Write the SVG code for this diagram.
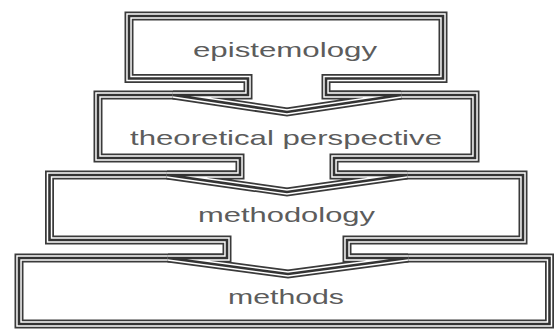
<svg xmlns="http://www.w3.org/2000/svg" xmlns:xlink="http://www.w3.org/1999/xlink" width="554" height="329" viewBox="0 0 554 329">
<style>
.o{fill:#fff;stroke:#3a3a3a;stroke-width:9}
.m{fill:none;stroke:#fff;stroke-width:5.5}
.i{fill:none;stroke:#333;stroke-width:2.6}
.t{font-family:"Liberation Sans",Arial,Helvetica,sans-serif;font-size:21px;fill:#5c5c5c;text-anchor:middle}
</style>
<defs>
<path id="p1" d="M129,16 H443 V78.5 H326 V95 H401 L287,112 L173,95 H248 V78.5 H129 Z"/>
<path id="p2" d="M98,95 H475 V158 H334 V175 H407 L287,192 L167,175 H240 V158 H98 Z"/>
<path id="p3" d="M49.5,175 H523 V240 H347 V258 H408 L288,274 L168,258 H227 V240 H49.5 Z"/>
<path id="p4" d="M19,258 H549.5 V324 H19 Z"/>
</defs>
<rect width="554" height="329" fill="#fff"/>
<g id="methods">
<use href="#p4" class="o"/><use href="#p4" class="m"/><use href="#p4" class="i"/>
<text class="t" x="286" y="304" textLength="116" lengthAdjust="spacingAndGlyphs">methods</text>
</g>
<g id="methodology">
<use href="#p3" class="o"/><use href="#p3" class="m"/><use href="#p3" class="i"/>
<text class="t" x="286.5" y="222" textLength="177" lengthAdjust="spacingAndGlyphs">methodology</text>
</g>
<g id="theoretical-perspective">
<use href="#p2" class="o"/><use href="#p2" class="m"/><use href="#p2" class="i"/>
<text class="t" x="286" y="145" textLength="312" lengthAdjust="spacingAndGlyphs">theoretical perspective</text>
</g>
<g id="epistemology">
<use href="#p1" class="o"/><use href="#p1" class="m"/><use href="#p1" class="i"/>
<text class="t" x="285" y="57" textLength="184" lengthAdjust="spacingAndGlyphs">epistemology</text>
</g>
<g id="connectors"></g>
</svg>
